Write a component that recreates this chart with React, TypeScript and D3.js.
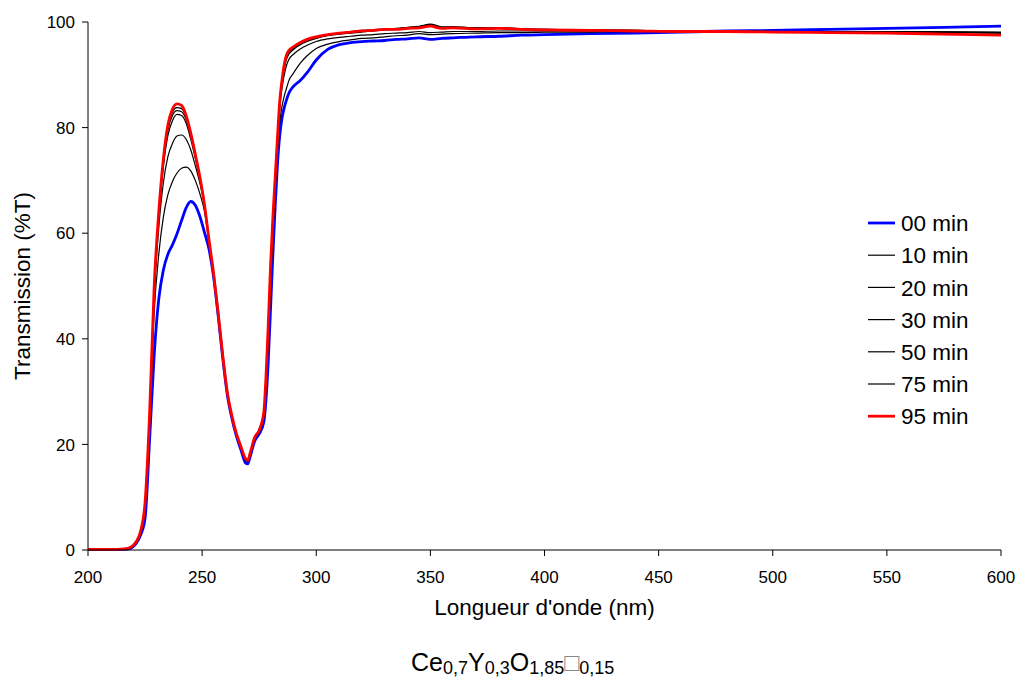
import React from "react";
import * as d3 from "d3";

// Wavelength grid (nm)
const wavelengths = [
  200, 210, 216, 219, 221, 223, 225, 227, 229, 231,
  233, 235, 237, 239, 241, 243, 245, 247, 249, 251,
  253, 255, 257, 259, 261, 263, 265, 267, 269, 270,
  271, 273, 275, 277, 278, 279, 280, 281, 282, 283,
  284, 285, 286, 287, 288, 290, 293, 296, 300, 305,
  310, 315, 320, 325, 330, 335, 340, 345, 350, 355,
  360, 370, 380, 390, 400, 420, 440, 460, 480, 500,
  525, 550, 575, 600,
];

const t00 = [
  0.1, 0.1, 0.1, 0.4, 1.2, 2.8, 6, 21, 37, 47.5,
  53, 56, 57.8, 59.9, 62.4, 64.8, 66.0, 65.3, 63.2, 60.2,
  57.0, 51.8, 44.5, 36.5, 29.5, 25, 21.6, 19, 16.5, 16.3,
  17.6, 20.6, 22, 24.2, 28.5, 36, 46, 56, 65, 73,
  78.5, 81.8, 83.8, 85.3, 86.5, 87.8, 88.9, 90.4, 92.8, 94.8,
  95.7, 96.1, 96.3, 96.4, 96.5, 96.7, 96.8, 97.0, 96.7, 96.9,
  97.0, 97.2, 97.3, 97.5, 97.6, 97.8, 97.9, 98.1, 98.3, 98.4,
  98.6, 98.8, 99.0, 99.2,
];

const t10 = [
  0.1, 0.1, 0.1, 0.5, 1.3, 3, 8, 24, 45, 56,
  63, 67.3, 69.8, 71.4, 72.3, 72.5, 71.8, 70, 67.5, 64.2,
  58.3, 52.2, 44.8, 36.8, 29.8, 25.3, 21.9, 19.4, 17.0, 16.8,
  18.0, 21.0, 22.4, 25, 31, 40, 50, 60, 68, 75.5,
  81, 84, 86, 87.5, 88.9, 90.3, 92.2, 93.6, 95, 95.8,
  96.3, 96.6, 96.9, 97.0, 97.2, 97.4, 97.5, 97.8, 97.6, 97.7,
  97.8, 97.9, 98.0, 98.0, 98.1, 98.1, 98.2, 98.2, 98.2, 98.2,
  98.2, 98.2, 98.1, 98.0,
];

const t20 = [
  0.1, 0.1, 0.2, 0.5, 1.4, 3.2, 8.5, 25, 48, 61,
  69.5, 74.5, 77, 78.4, 78.6, 77.8, 75.8, 72.8, 69.5, 65.2,
  58.7, 52.4, 45, 37, 30, 25.4, 22, 19.5, 17.2, 16.9,
  18.2, 21.2, 22.6, 25.6, 32, 42, 52.5, 62, 69.5, 77,
  83.5, 87.5, 90, 91.8, 92.9, 93.9, 94.9, 95.6, 96.3, 96.8,
  97.1, 97.3, 97.5, 97.6, 97.8, 97.9, 98.0, 98.2, 98.0, 98.1,
  98.2, 98.2, 98.3, 98.3, 98.3, 98.3, 98.2, 98.2, 98.2, 98.2,
  98.1, 98.1, 98.0, 97.9,
];

const t30 = [
  0.1, 0.1, 0.2, 0.6, 1.5, 3.4, 8.8, 25.5, 49, 63,
  72.5, 78.5, 81.3, 82.5, 82.3, 80.8, 77.8, 74.2, 70.3, 65.5,
  58.8, 52.5, 45, 37, 30, 25.5, 22.1, 19.6, 17.3, 17.0,
  18.3, 21.3, 22.7, 25.9, 32.8, 42.8, 53.6, 62.8, 70.2, 77.8,
  84.5, 88.5, 91.2, 93, 93.9, 94.8, 95.7, 96.3, 96.9, 97.4,
  97.7, 97.9, 98.1, 98.3, 98.5, 98.6, 98.8, 99.0, 99.4, 98.9,
  99.0, 98.8, 98.8, 98.6, 98.5, 98.4, 98.3, 98.3, 98.2, 98.2,
  98.2, 98.2, 98.1, 98.1,
];

const t50 = [
  0.1, 0.1, 0.2, 0.6, 1.5, 3.5, 9, 26, 49.5, 63.5,
  73.2, 79.5, 82.3, 83.2, 83.0, 81.5, 78.4, 74.6, 70.5, 65.5,
  58.8, 52.5, 45, 37, 30, 25.5, 22.1, 19.6, 17.3, 17.0,
  18.3, 21.3, 22.7, 26, 33, 43, 54, 63, 70.5, 78,
  84.8, 88.8, 91.6, 93.4, 94.2, 95.0, 95.9, 96.5, 97.0, 97.5,
  97.8, 98.0, 98.3, 98.4, 98.6, 98.7, 98.9, 99.1, 99.5, 99.0,
  99.1, 98.9, 98.9, 98.7, 98.6, 98.5, 98.4, 98.3, 98.3, 98.2,
  98.2, 98.2, 98.1, 98.0,
];

const t75 = [
  0.1, 0.1, 0.2, 0.6, 1.5, 3.5, 9, 26, 50, 64,
  73.7, 80, 82.9, 83.8, 83.6, 82, 78.7, 74.8, 70.6, 65.5,
  58.8, 52.5, 45, 37, 30, 25.5, 22.1, 19.6, 17.3, 17.0,
  18.3, 21.3, 22.7, 26, 33, 43, 54, 63, 70.5, 78,
  84.9, 88.9, 91.8, 93.6, 94.4, 95.1, 96.0, 96.6, 97.1, 97.5,
  97.8, 98.1, 98.4, 98.5, 98.7, 98.8, 99.0, 99.2, 99.6, 99.1,
  99.1, 98.9, 98.9, 98.7, 98.6, 98.5, 98.4, 98.3, 98.3, 98.2,
  98.2, 98.2, 98.1, 98.0,
];

const t95 = [
  0.1, 0.1, 0.2, 0.6, 1.5, 3.5, 9, 26, 50, 64,
  74, 80.5, 83.5, 84.5, 84.2, 82.3, 79, 75, 70.7, 65.5,
  58.8, 52.5, 45, 37, 30, 25.5, 22.1, 19.6, 17.3, 17.0,
  18.3, 21.3, 22.7, 26, 33, 43, 54, 63, 70.5, 78,
  85, 89, 92, 93.8, 94.6, 95.3, 96.1, 96.7, 97.2, 97.6,
  97.9, 98.1, 98.3, 98.4, 98.6, 98.6, 98.8, 98.9, 99.2, 98.8,
  98.9, 98.7, 98.8, 98.6, 98.5, 98.4, 98.3, 98.2, 98.2, 98.1,
  98.0, 97.9, 97.7, 97.5,
];

const seriesNames = ["00 min", "10 min", "20 min", "30 min", "50 min", "75 min", "95 min"];
const seriesValues = [t00, t10, t20, t30, t50, t75, t95];
const seriesColors = ["#0000ff", "#000000", "#000000", "#000000", "#000000", "#000000", "#ff0000"];
const seriesWidths = [2.8, 1.2, 1.2, 1.2, 1.2, 1.2, 2.8];

const xTicks = [200, 250, 300, 350, 400, 450, 500, 550, 600];
const yTicks = [0, 20, 40, 60, 80, 100];

const FONT = "'Liberation Sans', Arial, sans-serif";

export default function App() {
  const W = 1017;
  const H = 684;
  const left = 88, right = 1001, top = 22, bottom = 550;
  const x = d3.scaleLinear().domain([200, 600]).range([left, right]);
  const y = d3.scaleLinear().domain([0, 100]).range([bottom, top]);
  const line = d3
    .line<number>()
    .x((_, i) => x(wavelengths[i]))
    .y((d) => y(d))
    .curve(d3.curveMonotoneX);

  const drawOrder = [0, 1, 2, 3, 4, 5, 6];

  return (
    <svg
      width={W}
      height={H}
      style={{ position: "absolute", left: 0, top: 0, background: "#fff" }}
      fontFamily={FONT}
    >
      <rect x={0} y={0} width={W} height={H} fill="#fff" />
      {drawOrder.map((k) => (
        <path
          key={k}
          d={line(seriesValues[k]) || ""}
          fill="none"
          stroke={seriesColors[k]}
          strokeWidth={seriesWidths[k]}
          strokeLinejoin="round"
        />
      ))}
      <line x1={left} x2={left} y1={top} y2={bottom} stroke="#000" strokeWidth={1} />
      <line x1={left} x2={right} y1={bottom} y2={bottom} stroke="#000" strokeWidth={1} />
      {yTicks.map((t) => (
        <g key={"y" + t}>
          <line x1={left - 6} x2={left} y1={y(t)} y2={y(t)} stroke="#000" />
          <text x={left - 13} y={y(t)} dy="0.36em" textAnchor="end" fontSize={17}>
            {t}
          </text>
        </g>
      ))}
      {xTicks.map((t) => (
        <g key={"x" + t}>
          <line x1={x(t)} x2={x(t)} y1={bottom} y2={bottom + 6} stroke="#000" />
          <text x={x(t)} y={583} textAnchor="middle" fontSize={17}>
            {t}
          </text>
        </g>
      ))}
      <text x={(left + right) / 2} y={615} textAnchor="middle" fontSize={22.5}>
        Longueur d'onde (nm)
      </text>
      <text
        transform={`translate(30, ${(top + bottom) / 2}) rotate(-90)`}
        textAnchor="middle"
        fontSize={22.5}
      >
        Transmission (%T)
      </text>
      {seriesNames.map((n, i) => {
        const ly = 223 + i * 32.2;
        return (
          <g key={n}>
            <line
              x1={868}
              x2={895}
              y1={ly}
              y2={ly}
              stroke={seriesColors[i]}
              strokeWidth={seriesWidths[i]}
            />
            <text x={901} y={ly} dy="0.36em" fontSize={22.5}>
              {n}
            </text>
          </g>
        );
      })}
      <text x={411} y={671} fontSize={25}>
        Ce
        <tspan fontSize={18} dy={3}>0,7</tspan>
        <tspan dy={-3}>Y</tspan>
        <tspan fontSize={18} dy={3}>0,3</tspan>
        <tspan dy={-3}>O</tspan>
        <tspan fontSize={18} dy={3}>1,85</tspan>
        <tspan dy={-3} fill="#888">□</tspan>
        <tspan fontSize={18} dy={3}>0,15</tspan>
      </text>
    </svg>
  );
}
